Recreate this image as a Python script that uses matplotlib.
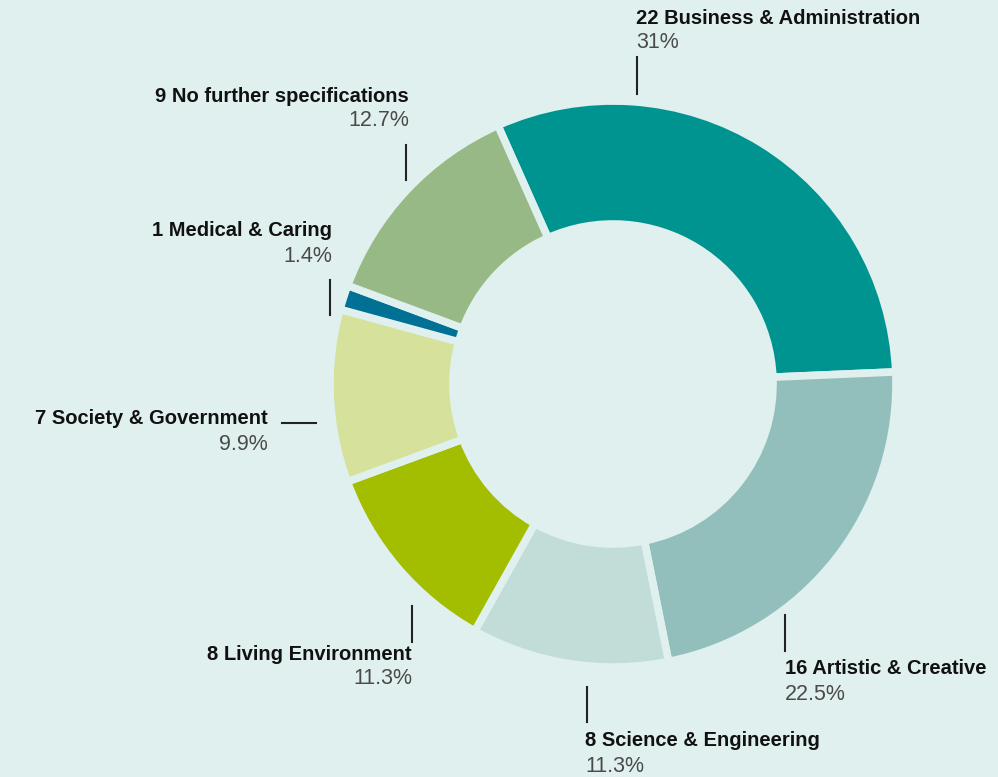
import matplotlib
matplotlib.use('Agg')
import matplotlib.pyplot as plt

# data
categories = ["Business & Administration", "Artistic & Creative", "Science & Engineering",
              "Living Environment", "Society & Government", "Medical & Caring",
              "No further specifications"]
counts = [22, 16, 8, 8, 7, 1, 9]
colors = ["#009490", "#92bfbb", "#c2ddd8", "#a3bd00", "#d6e19b", "#007095", "#97b986"]

BG = "#dff0ee"
W, H = 998, 777

plt.rcParams['font.family'] = ['Liberation Sans', 'DejaVu Sans']

fig = plt.figure(figsize=(W / 100, H / 100), dpi=100, facecolor=BG)
ax = fig.add_axes([0, 0, 1, 1])
ax.set_facecolor(BG)

cx, cy, R = 613, H - 384, 283
ax.pie(counts, colors=colors, startangle=114, counterclock=False,
       center=(cx, cy), radius=R, frame=True,
       wedgeprops=dict(width=123, edgecolor=BG, linewidth=5.5))
ax.set_xlim(0, W)
ax.set_ylim(0, H)
ax.set_aspect('equal')
ax.axis('off')

total = sum(counts)
pcts = [f"{round(c / total * 100, 1):g}%" for c in counts]

# label layout (pixel coords, y from top): text x, bold y, align, leader line
layout = [
    (636, 18, 'left', [(637, 57), (637, 94)]),
    (785, 669, 'left', [(785, 615), (785, 651)]),
    (585, 741, 'left', [(587, 687), (587, 722)]),
    (412, 654, 'right', [(412, 606), (412, 642)]),
    (268, 419, 'right', [(282, 423), (316, 423)]),
    (332, 231, 'right', [(330, 280), (330, 315)]),
    (409, 96, 'right', [(406, 145), (406, 180)]),
]

for cat, n, pct, (tx, ty, ha, line) in zip(categories, counts, pcts, layout):
    ax.text(tx, H - ty, f"{n} {cat}", ha=ha, va='center', fontsize=14.5,
            fontweight='bold', color='#111111')
    ax.text(tx, H - ty - 25, pct, ha=ha, va='center', fontsize=15.5,
            color='#4a4a4a')
    (x0, y0), (x1, y1) = line
    ax.plot([x0, x1], [H - y0, H - y1], color='#222222', lw=1.5)

fig.savefig("out.png", dpi=100, facecolor=BG)
